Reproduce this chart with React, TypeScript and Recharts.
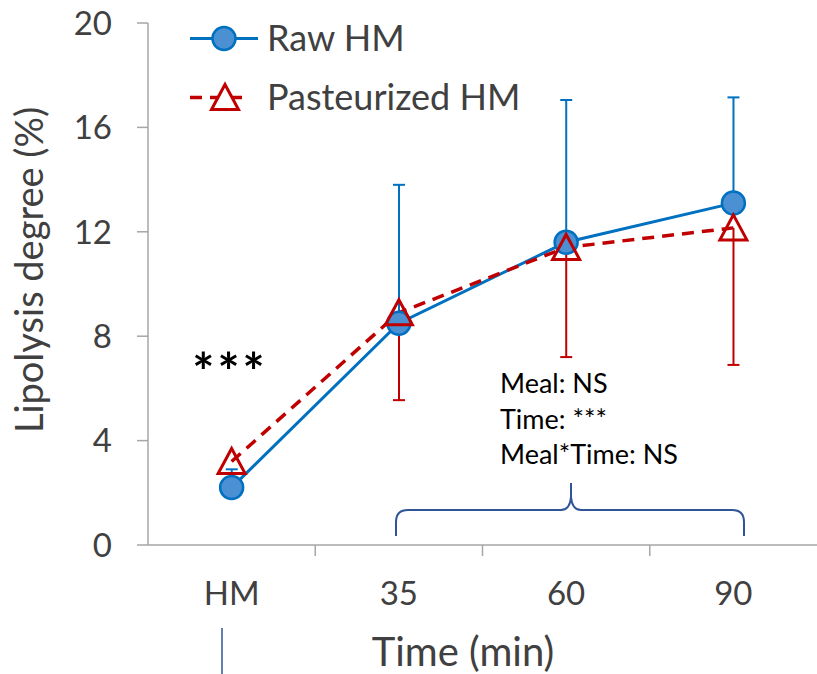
import { ComposedChart, Line, Bar, XAxis, YAxis, Legend } from "recharts";

const timePoints = ["HM", "35", "60", "90"];
const rawMean = [2.2, 8.5, 11.6, 13.1];
const rawUpper = [2.9, 13.8, 17.05, 17.15];
const pastMean = [3.2, 8.9, 11.4, 12.15];
const pastLower = [3.2, 5.55, 7.2, 6.9];
const yTicks = [0, 4, 8, 12, 16, 20];
const statLines = ["Meal: NS", "Time: ***", "Meal*Time: NS"];

const data = timePoints.map((t, i) => ({
  time: t,
  raw: rawMean[i],
  past: pastMean[i],
  rawErr: [rawMean[i], rawUpper[i]],
  pastErr: [pastLower[i], pastMean[i]],
}));

const BLUE = "#0070c0";
const RED = "#c00000";
const GREY = "#404040";
const AXIS = "#a6a6a6";
const FONT = "Lato, 'Open Sans', sans-serif";
const X_TICK_GAP = 37;

// one-sided error bar: vertical line plus a cap at one end
const errorShape = (color: string, cap: "top" | "bottom") => (props: any) => {
  const { x, y, width, height } = props;
  const h = Math.abs(height || 0);
  if (h < 1) return <g />;
  const top = Math.min(y, y + height);
  const cx = x + width / 2;
  const capY = cap === "top" ? top : top + h;
  return (
    <g>
      <line x1={cx} x2={cx} y1={top} y2={top + h} stroke={color} strokeWidth={2} />
      <line x1={cx - 6} x2={cx + 6} y1={capY} y2={capY} stroke={color} strokeWidth={2} />
    </g>
  );
};

const triangleDot = (props: any) => {
  const { cx, cy, index } = props;
  if (cx == null || cy == null) return <g key={index} />;
  return (
    <path
      key={index}
      d={`M${cx},${cy - 13} L${cx + 13.5},${cy + 12} L${cx - 13.5},${cy + 12} Z`}
      fill="none"
      stroke={RED}
      strokeWidth={3}
      strokeLinejoin="miter"
    />
  );
};

// category labels centred, tick marks on the band boundaries
const XTick = (props: any) => {
  const { x, y, payload, index } = props;
  const axisY = y - X_TICK_GAP;
  const half = payload.offset || 0;
  return (
    <g>
      {index > 0 && (
        <line x1={x - half} x2={x - half} y1={axisY} y2={axisY + 11} stroke={AXIS} strokeWidth={1.5} />
      )}
      <text x={x} y={y} dy="0.71em" textAnchor="middle" fontSize={33} fill={GREY} fontFamily={FONT}>
        {payload.value}
      </text>
    </g>
  );
};

const renderLegend = () => (
  <svg width={380} height={120} style={{ display: "block" }}>
    <line x1={5} x2={73} y1={28.5} y2={28.5} stroke={BLUE} strokeWidth={3} />
    <circle cx={39} cy={28.5} r={11.5} fill="#4a90d2" stroke={BLUE} strokeWidth={2.5} />
    <text x={82} y={28.5} dy="0.36em" fontSize={36} fill={GREY} fontFamily={FONT}>
      Raw HM
    </text>
    <line x1={5} x2={61} y1={87.5} y2={87.5} stroke={RED} strokeWidth={3.5} strokeDasharray="12 8" />
    <path d="M40,74.5 L53.5,99.5 L26.5,99.5 Z" fill="white" stroke={RED} strokeWidth={3} />
    <text x={82} y={87.5} dy="0.36em" fontSize={36} fill={GREY} fontFamily={FONT}>
      Pasteurized HM
    </text>
  </svg>
);

export default function App() {
  return (
    <div style={{ position: "absolute", left: 0, top: 0, width: 817, height: 674, background: "#fff" }}>
      <ComposedChart width={817} height={674} data={data} margin={{ top: 23, right: 0, bottom: 0, left: 0 }}>
        <XAxis
          dataKey="time"
          height={129}
          axisLine={{ stroke: AXIS, strokeWidth: 1.5 }}
          tickLine={false}
          tickSize={0}
          tickMargin={X_TICK_GAP}
          tick={<XTick />}
          interval={0}
        />
        <XAxis xAxisId="errRaw" dataKey="time" hide />
        <XAxis xAxisId="errPast" dataKey="time" hide />
        <YAxis
          domain={[0, 20]}
          ticks={yTicks}
          width={148}
          axisLine={{ stroke: AXIS, strokeWidth: 1.5 }}
          tickLine={{ stroke: AXIS, strokeWidth: 1.5 }}
          tickSize={11}
          tickMargin={25}
          tick={{ fontSize: 33, fill: GREY, fontFamily: FONT }}
          allowDataOverflow
        />
        <Legend
          layout="vertical"
          align="center"
          verticalAlign="middle"
          content={renderLegend}
          wrapperStyle={{ left: 185, top: 10, width: 380 }}
        />
        <Line
          dataKey="raw"
          stroke={BLUE}
          strokeWidth={3}
          dot={{ r: 11.5, fill: "#4a90d2", stroke: BLUE, strokeWidth: 2.5 }}
          activeDot={false}
          isAnimationActive={false}
        />
        <Line
          dataKey="past"
          stroke={RED}
          strokeWidth={3.5}
          strokeDasharray="12 8"
          dot={triangleDot}
          activeDot={false}
          isAnimationActive={false}
        />
        <Bar
          xAxisId="errRaw"
          dataKey="rawErr"
          shape={errorShape(BLUE, "top")}
          isAnimationActive={false}
        />
        <Bar
          xAxisId="errPast"
          dataKey="pastErr"
          shape={errorShape(RED, "bottom")}
          isAnimationActive={false}
        />
      </ComposedChart>
      <svg
        width={817}
        height={674}
        style={{ position: "absolute", left: 0, top: 0, pointerEvents: "none" }}
        fontFamily={FONT}
      >
        <text transform="translate(43,270) rotate(-90)" textAnchor="middle" fontSize={38} fill={GREY}>
          Lipolysis degree (%)
        </text>
        <text x={463} y={666} textAnchor="middle" fontSize={40} fill={GREY}>
          Time (min)
        </text>
        <text x={230} y={391} textAnchor="middle" fontSize={52} fontWeight={700} letterSpacing={3} fill="#000">
          ***
        </text>
        {statLines.map((s, i) => (
          <text key={s} x={500} y={393 + i * 35.5} fontSize={27} fill="#000">
            {s}
          </text>
        ))}
        <path
          d="M396,536 L396,522 Q396,510 408,510 L561,510 Q570,510 571,497 L571,483 M571,497 Q572,510 581,510 L732,510 Q744,510 744,522 L744,536"
          fill="none"
          stroke="#2f5597"
          strokeWidth={2}
        />
        <line x1={222} x2={222} y1={628} y2={674} stroke="#2f5597" strokeWidth={1.5} />
      </svg>
    </div>
  );
}
